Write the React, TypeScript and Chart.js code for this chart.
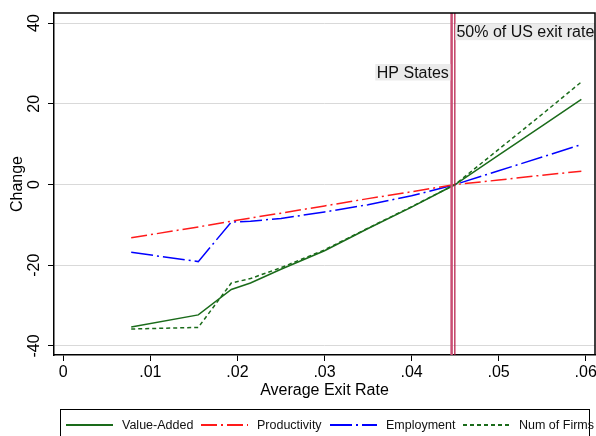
import React, { useEffect, useRef } from 'react';
import { Chart, registerables } from 'chart.js';

Chart.register(...registerables);

const FONT = "'Liberation Sans', Arial, Helvetica, sans-serif";

// ---- data ----
const exitRate = [0.0078, 0.0155, 0.0193, 0.0215, 0.025, 0.030, 0.035, 0.040, 0.045, 0.050, 0.055, 0.0595];
const valueAdded = [-35.3, -32.3, -26.0, -24.4, -21.0, -16.4, -10.9, -5.6, 0, 7.3, 14.5, 21.1];
const productivity = [-13.2, -10.5, -9.1, -8.3, -7.1, -5.3, -3.5, -1.8, 0, 1.1, 2.3, 3.3];
const employment = [-16.8, -19.1, -9.3, -9.1, -8.4, -6.8, -5.0, -2.8, 0, 3.4, 6.8, 9.9];
const numFirms = [-35.8, -35.4, -24.4, -23.3, -20.6, -16.2, -10.8, -5.5, 0, 8.7, 17.4, 25.4];
const seriesNames = ['Value-Added', 'Productivity', 'Employment', 'Num of Firms'];

const xTicks = [0, 0.01, 0.02, 0.03, 0.04, 0.05, 0.06];
const xTickLabels = ['0', '.01', '.02', '.03', '.04', '.05', '.06'];
const yTicks = [-40, -20, 0, 20, 40];
const yTickLabels = ['-40', '-20', '0', '20', '40'];

const refLines = [0.0446, 0.04497];
const refLabels = ['HP States', '50% of US exit rate'];
const refLabelY = [27.8, 37.8];

// ---- styles ----
const GREEN = '#1a6b1a';
const RED = '#ff1a1a';
const BLUE = '#0000ff';
const legendLineX = [66, 201, 330, 463];

const pts = (ys: number[]) => exitRate.map((x, i) => ({ x, y: ys[i] }));

const decor = {
  id: 'decor',
  afterDatasetsDraw(chart: any) {
    const { ctx, chartArea: a, scales } = chart;
    const xs = scales.x;
    const ys = scales.y;
    ctx.save();
    const colors = ['#c94f74', '#b3123e'];
    const widths = [2.5, 1.2];
    refLines.forEach((v, i) => {
      const px = xs.getPixelForValue(v);
      ctx.strokeStyle = colors[i];
      ctx.lineWidth = widths[i];
      ctx.beginPath();
      ctx.moveTo(px, a.top);
      ctx.lineTo(px, a.bottom);
      ctx.stroke();
    });
    ctx.font = `16px ${FONT}`;
    ctx.textBaseline = 'middle';
    refLabels.forEach((t, i) => {
      const px = xs.getPixelForValue(refLines[i]);
      const py = ys.getPixelForValue(refLabelY[i]);
      const w = ctx.measureText(t).width;
      const h = 16.5;
      ctx.fillStyle = '#ebebeb';
      if (i === 0) {
        const right = px - 1.3;
        ctx.fillRect(right - w - 3, py - h / 2, w + 3, h);
        ctx.fillStyle = '#111';
        ctx.textAlign = 'right';
        ctx.fillText(t, right - 1.5, py + 1);
      } else {
        const left = px + 0.6;
        ctx.fillRect(left, py - h / 2, Math.min(w + 3, a.right - left), h);
        ctx.fillStyle = '#111';
        ctx.textAlign = 'left';
        ctx.fillText(t, left + 1, py + 1);
      }
    });
    ctx.restore();
  },
  afterDraw(chart: any) {
    const { ctx, chartArea: a, scales } = chart;
    const ys = scales.y;
    ctx.save();
    // frame top & right
    ctx.strokeStyle = '#000';
    ctx.lineWidth = 1.5;
    ctx.beginPath();
    ctx.moveTo(a.left, a.top);
    ctx.lineTo(a.right, a.top);
    ctx.lineTo(a.right, a.bottom);
    ctx.stroke();
    // rotated y tick labels
    ctx.fillStyle = '#000';
    ctx.font = `16px ${FONT}`;
    ctx.textAlign = 'center';
    ctx.textBaseline = 'middle';
    yTicks.forEach((v, i) => {
      const py = ys.getPixelForValue(v);
      ctx.save();
      ctx.translate(35, py);
      ctx.rotate(-Math.PI / 2);
      ctx.fillText(yTickLabels[i], 0, 0);
      ctx.restore();
    });
    // legend
    ctx.strokeStyle = '#000';
    ctx.lineWidth = 1;
    ctx.strokeRect(60.5, 409.5, 529, 40);
    const ly = 425;
    chart.data.datasets.forEach((ds: any, i: number) => {
      const lx = legendLineX[i];
      ctx.setLineDash(ds.borderDash || []);
      ctx.strokeStyle = ds.borderColor;
      ctx.lineWidth = 2;
      ctx.beginPath();
      ctx.moveTo(lx, ly);
      ctx.lineTo(lx + 47, ly);
      ctx.stroke();
      ctx.setLineDash([]);
      ctx.fillStyle = '#111';
      ctx.font = `12.5px ${FONT}`;
      ctx.textAlign = 'left';
      ctx.textBaseline = 'middle';
      ctx.fillText(ds.label, lx + 56, ly + 0.5);
    });
    ctx.restore();
  },
};

export default function App() {
  const ref = useRef<HTMLCanvasElement>(null);
  useEffect(() => {
    Chart.defaults.font.family = FONT;
    const chart = new Chart(ref.current as HTMLCanvasElement, {
      type: 'line',
      data: {
        datasets: [
          { label: seriesNames[0], data: pts(valueAdded), borderColor: GREEN, borderWidth: 1.5, pointRadius: 0, fill: false, tension: 0 },
          { label: seriesNames[1], data: pts(productivity), borderColor: RED, borderWidth: 1.5, borderDash: [16, 4, 2, 4], pointRadius: 0, fill: false, tension: 0 },
          { label: seriesNames[2], data: pts(employment), borderColor: BLUE, borderWidth: 1.5, borderDash: [22, 4, 2, 4], pointRadius: 0, fill: false, tension: 0 },
          { label: seriesNames[3], data: pts(numFirms), borderColor: GREEN, borderWidth: 1.5, borderDash: [4, 3], pointRadius: 0, fill: false, tension: 0 },
        ],
      },
      options: {
        animation: false,
        responsive: false,
        devicePixelRatio: 1,
        layout: { padding: { top: 13, right: 1, left: 0, bottom: 0 } },
        plugins: { legend: { display: false }, tooltip: { enabled: false } },
        scales: {
          x: {
            type: 'linear',
            min: -0.001068,
            max: 0.061068,
            afterBuildTicks: (s: any) => { s.ticks = xTicks.map((v) => ({ value: v })); },
            afterFit: (s: any) => { s.height = 81; s.paddingLeft = 0; s.paddingRight = 0; },
            ticks: {
              callback: (v: any) => xTickLabels[xTicks.indexOf(Number(v))],
              font: { size: 16, family: FONT },
              color: '#000',
              padding: 2,
              maxRotation: 0,
              minRotation: 0,
              autoSkip: false,
            },
            grid: { drawOnChartArea: false, color: '#000', tickColor: '#000', tickLength: 6, tickWidth: 1 },
            border: { color: '#000', width: 1.5 },
            title: { display: true, text: 'Average Exit Rate', font: { size: 16, family: FONT }, color: '#000', padding: { top: 0, bottom: 35.4 } },
          },
          y: {
            type: 'linear',
            min: -42.23,
            max: 42.48,
            afterBuildTicks: (s: any) => { s.ticks = yTicks.map((v) => ({ value: v })); },
            afterFit: (s: any) => { s.width = 54; s.paddingTop = 0; s.paddingBottom = 0; },
            ticks: { display: false },
            grid: { drawOnChartArea: true, color: '#d9d9d9', lineWidth: 1, tickColor: '#000', tickLength: 6, tickWidth: 1 },
            border: { color: '#000', width: 1.5 },
            title: { display: true, text: 'Change', font: { size: 16, family: FONT }, color: '#000', padding: { top: 8.4, bottom: 0 } },
          },
        },
      } as any,
      plugins: [decor],
    });
    return () => chart.destroy();
  }, []);
  return (
    <div style={{ position: 'absolute', left: 0, top: 0, width: 596, height: 436, background: '#fff', overflow: 'hidden' }}>
      <canvas ref={ref} width={596} height={436} style={{ display: 'block', width: 596, height: 436 }} />
    </div>
  );
}
